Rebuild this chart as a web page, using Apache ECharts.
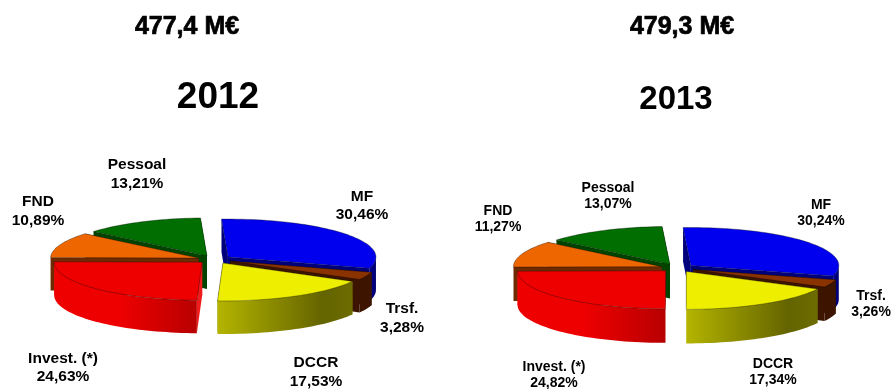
<!DOCTYPE html>
<html>
<head>
<meta charset="utf-8">
<style>html,body{margin:0;padding:0;background:#fff}#c{width:892px;height:389px}</style>
<script src="https://cdn.jsdelivr.net/npm/echarts@6/dist/echarts.min.js"></script>
</head>
<body>
<div id="c"></div>
<script>
// Budget structure by heading, one exploded 3D pie per year.
const categories = ['MF', 'Trsf.', 'DCCR', 'Invest. (*)', 'FND', 'Pessoal'];
const shares2012 = [30.46, 3.28, 17.53, 24.63, 10.89, 13.21];
const shares2013 = [30.24, 3.26, 17.34, 24.82, 11.27, 13.07];
const totalLabels = ['477,4 M€', '479,3 M€'];
const yearLabels = ['2012', '2013'];

// Per-heading paint: top face, side walls, rim gradient stops.
const paints = [
  { top: '#0000ee', wall: '#00007c', rim: [[0, '#000090'], [1, '#000070']] },
  { top: '#8a3300', wall: '#3c1400', rim: [[0, '#3c1400'], [1, '#3c1400']] },
  { top: '#eeee00', wall: '#8c8c00', rim: [[0, '#b4b400'], [0.78, '#646400'], [1, '#6c6c00']] },
  { top: '#ee0000', wall: '#f01c1c', rim: [[0, '#ee0000'], [0.45, '#ee0000'], [1, '#b80000']] },
  { top: '#ee6600', wall: '#6e2a00', rim: [[0, '#6e2a00'], [1, '#6e2a00']] },
  { top: '#006e00', wall: '#004400', rim: [[0, '#004400'], [1, '#004400']] }
];

const pies = [
  { shares: shares2012, cx: 214.5, cy: 259.5, rx: 148, ry: 38, depth: 33, explodeX: 17, explodeY: 4, startDeg: -2.5,
    labels: [[362, 205.5], [402, 318], [316, 372], [63, 367.5], [38, 211], [137, 174]], font: 15.5, lead: 18.5 },
  { shares: shares2013, cx: 677.5, cy: 268, rx: 148, ry: 38, depth: 34, explodeX: 17, explodeY: 4, startDeg: -3,
    labels: [[821, 213], [871, 304], [773, 372], [554, 375], [498, 219.5], [608, 196]], font: 14, lead: 16 }
];

function buildPieSeries(pie, name) {
  const total = pie.shares.reduce((a, b) => a + b, 0);
  const rad = d => d * Math.PI / 180;
  return {
    type: 'custom',
    name: name,
    coordinateSystem: 'none',
    silent: true,
    data: pie.shares.map((v, i) => ({ name: categories[i], value: [v, i] })),
    renderItem(params, api) {
      const idx = params.dataIndex;
      const value = api.value(0);
      let before = 0;
      for (let k = 0; k < idx; k++) before += pie.shares[k];
      const a0 = pie.startDeg + before / total * 360;
      const a1 = a0 + value / total * 360;
      const mid = (a0 + a1) / 2;
      const ox = pie.cx + pie.explodeX * Math.sin(rad(mid));
      const oy = pie.cy - pie.explodeY * Math.cos(rad(mid));
      const rim = a => [ox + pie.rx * Math.sin(rad(a)), oy - pie.ry * Math.cos(rad(a))];
      const arc = (from, to) => {
        const n = Math.max(2, Math.ceil((to - from) / 2));
        const pts = [];
        for (let j = 0; j <= n; j++) pts.push(rim(from + (to - from) * j / n));
        return pts;
      };
      const drop = p => [p[0], p[1] + pie.depth];
      const paint = paints[idx];
      const z = Math.round((1 - Math.cos(rad(mid))) * 100);
      const children = [];
      const poly = (points, style) => children.push({ type: 'polygon', z2: z, shape: { points }, style });

      // radial cut faces
      [a0, a1].forEach(a => {
        const p = rim(a);
        poly([[ox, oy], p, drop(p), [ox, oy + pie.depth]], { fill: paint.wall });
      });
      // curved outer wall: only the part facing the viewer
      const f = Math.max(a0, 90), t = Math.min(a1, 270);
      if (t > f) {
        const front = arc(f, t);
        poly(front.concat(front.slice().reverse().map(drop)), {
          fill: new echarts.graphic.LinearGradient(0, 0, 1, 0,
            paint.rim.map(s => ({ offset: s[0], color: s[1] })))
        });
      }
      // top face
      poly([[ox, oy]].concat(arc(a0, a1)), { fill: paint.top, stroke: 'rgba(0,0,0,0.55)', lineWidth: 0.6 });

      // heading and share
      const at = pie.labels[idx];
      children.push({
        type: 'text', z2: 500,
        style: {
          x: at[0], y: at[1],
          text: categories[idx] + '\n' + value.toFixed(2).replace('.', ',') + '%',
          fill: '#000', align: 'center', verticalAlign: 'middle', lineHeight: pie.lead,
          font: 'bold ' + pie.font + 'px "Liberation Sans", Arial, sans-serif'
        }
      });
      return { type: 'group', children };
    }
  };
}

const chart = echarts.init(document.getElementById('c'), null, { renderer: 'canvas' });
const heading = (text, x, y, size) => ({
  text, left: x, top: y, textAlign: 'center', textVerticalAlign: 'middle', padding: 0,
  textStyle: { fontFamily: '"Liberation Sans", Arial, sans-serif', fontWeight: 'bold', fontSize: size, color: '#000',
    textBorderColor: '#000', textBorderWidth: size < 30 ? 0.7 : 0 }
});
chart.setOption({
  animation: false,
  backgroundColor: '#fff',
  title: [
    heading(totalLabels[0], 187, 27, 25),
    heading(totalLabels[1], 682, 27, 25),
    heading(yearLabels[0], 218, 98, 37),
    heading(yearLabels[1], 676, 100, 33)
  ],
  series: pies.map((p, i) => buildPieSeries(p, yearLabels[i]))
});
</script>
</body>
</html>
